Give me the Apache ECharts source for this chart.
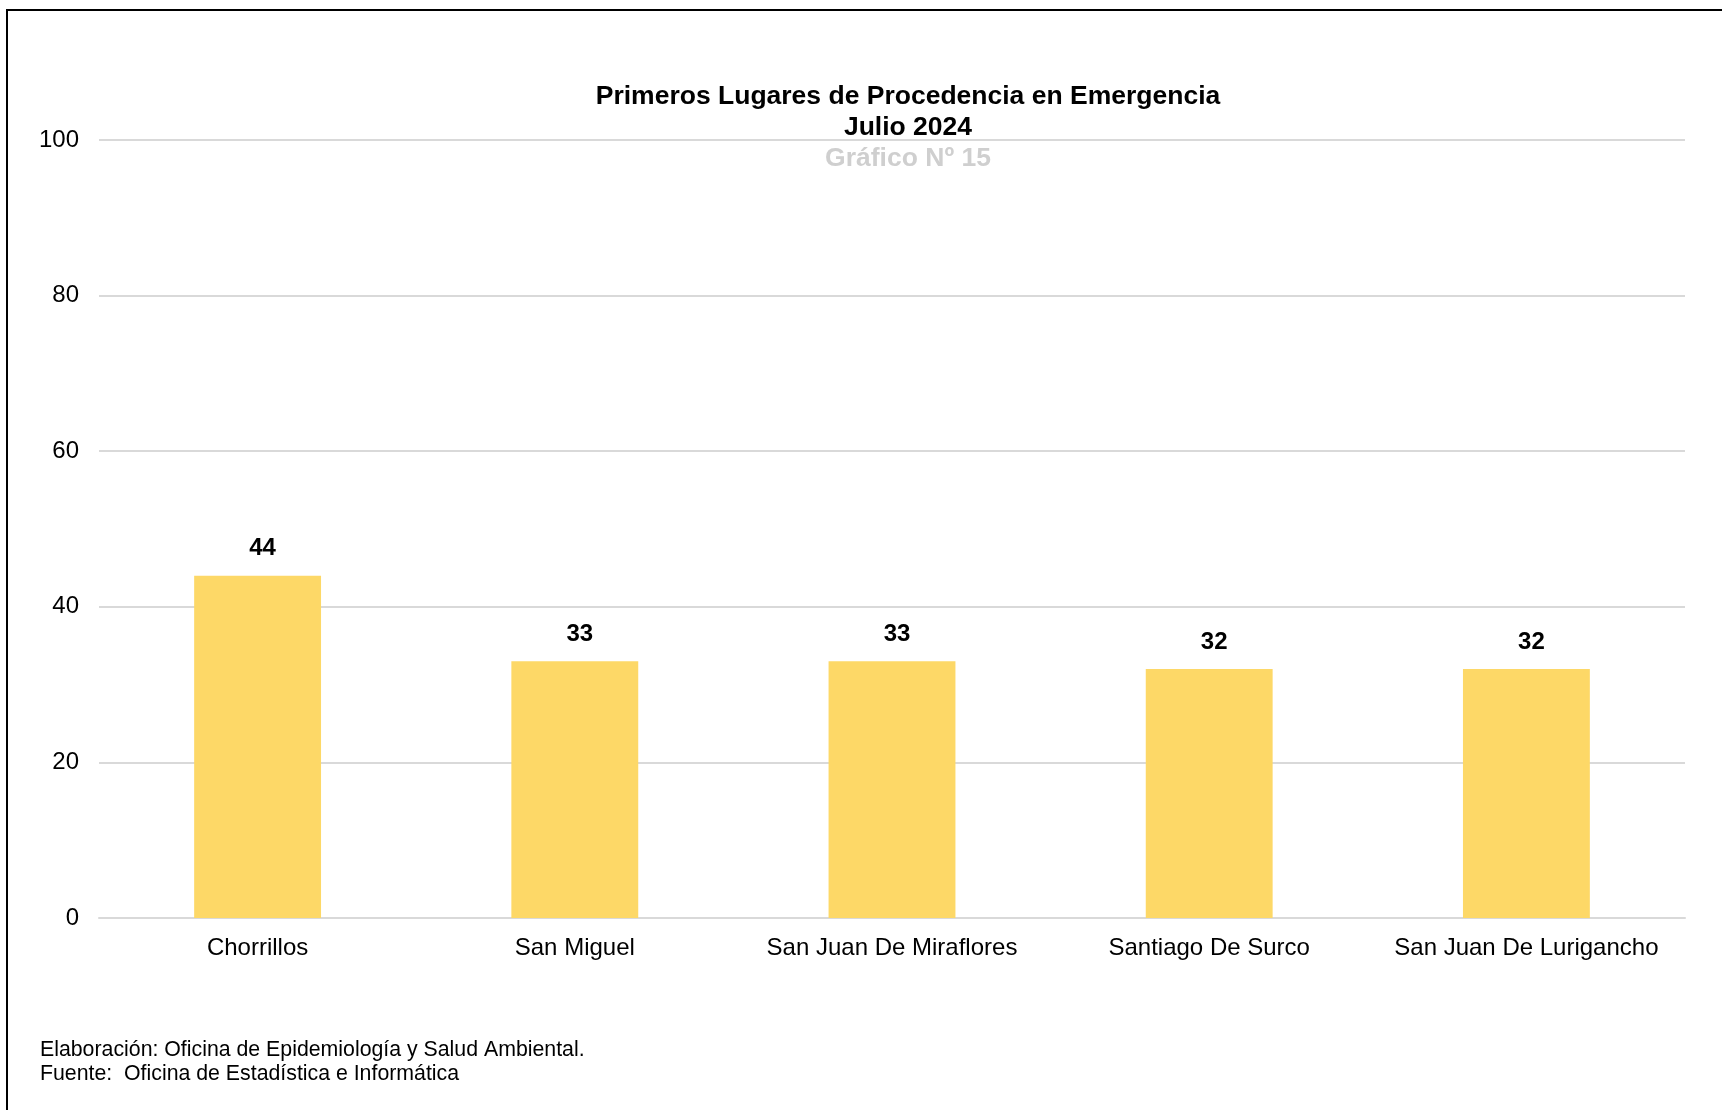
<!DOCTYPE html>
<html>
<head>
<meta charset="utf-8">
<script src="https://cdn.jsdelivr.net/npm/echarts@6/dist/echarts.min.js"></script>
<style>
  html, body { margin: 0; padding: 0; background: #fff; }
  #chart { width: 1722px; height: 1110px; }
</style>
</head>
<body>
<div id="chart"></div>
<script>
// distritos de procedencia - julio 2024
var categories = ["Chorrillos", "San Miguel", "San Juan De Miraflores", "Santiago De Surco", "San Juan De Lurigancho"];
var values = [44, 33, 33, 32, 32];
var yTicks = { min: 0, max: 100, interval: 20 };

var chart = echarts.init(document.getElementById("chart"));
var font = "Liberation Sans, Arial, sans-serif";

var option = {
  backgroundColor: "#fff",
  animation: false,
  title: [
    {
      text: "Primeros Lugares de Procedencia en Emergencia\nJulio 2024",
      left: 908,
      top: 81,
      textAlign: "center",
      padding: 0,
      textStyle: {
        fontFamily: font,
        fontSize: 26.5,
        fontWeight: "bold",
        color: "#000",
        lineHeight: 31
      }
    },
    {
      text: "Gráfico Nº 15",
      left: 908,
      top: 143,
      textAlign: "center",
      padding: 0,
      textStyle: {
        fontFamily: font,
        fontSize: 26.5,
        fontWeight: "bold",
        color: "#cfcfcf",
        lineHeight: 31
      }
    }
  ],
  grid: {
    left: 99,
    right: 37,
    top: 140,
    bottom: 192
  },
  xAxis: {
    type: "category",
    data: categories,
    axisTick: { show: false },
    axisLine: { lineStyle: { color: "#d9d9d9", width: 2 } },
    axisLabel: {
      interval: 0,
      margin: 18,
      fontFamily: font,
      fontSize: 24,
      color: "#000"
    }
  },
  yAxis: {
    type: "value",
    min: yTicks.min,
    max: yTicks.max,
    interval: yTicks.interval,
    axisLine: { show: false },
    axisTick: { show: false },
    splitLine: { lineStyle: { color: "#d9d9d9", width: 2 } },
    axisLabel: {
      margin: 20,
      fontFamily: font,
      fontSize: 24,
      color: "#000"
    }
  },
  series: [
    {
      type: "bar",
      data: values,
      barWidth: "40%",
      itemStyle: { color: "#FDD867" },
      label: {
        show: true,
        position: "top",
        distance: 15,
        offset: [5, 0],
        fontFamily: font,
        fontSize: 24,
        fontWeight: "bold",
        color: "#000"
      }
    }
  ],
  graphic: [
    {
      type: "polyline",
      shape: { points: [[7, 1110], [7, 10], [1722, 10]] },
      style: { stroke: "#000", lineWidth: 2, fill: null }
    },
    {
      type: "text",
      left: 40,
      top: 1038,
      style: {
        text: "Elaboración: Oficina de Epidemiología y Salud Ambiental.\nFuente:  Oficina de Estadística e Informática",
        font: "21.3px Liberation Sans, Arial, sans-serif",
        fill: "#000",
        lineHeight: 24
      }
    }
  ]
};

chart.setOption(option);
</script>
</body>
</html>
